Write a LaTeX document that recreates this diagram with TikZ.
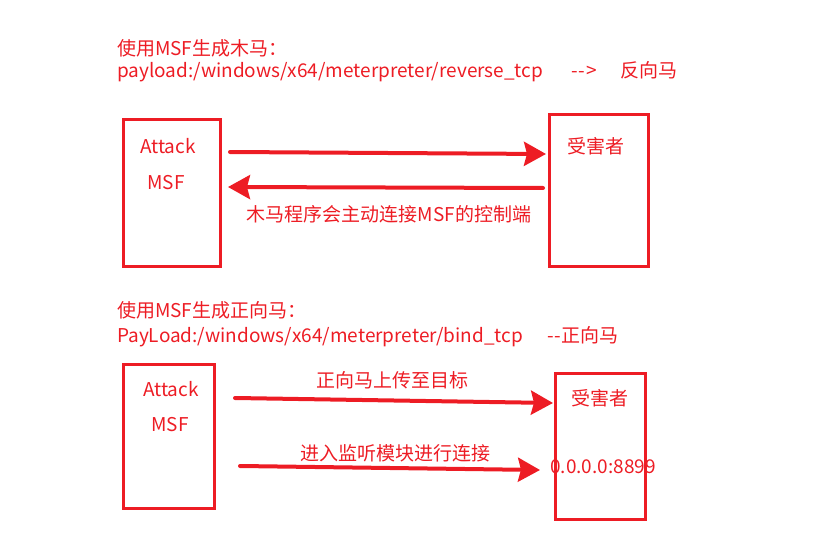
\documentclass[tikz,border=0pt]{standalone}
\usepackage{fontspec}
\setmainfont{Noto Sans CJK SC}
\usepackage{tikz}
\usetikzlibrary{arrows.meta, positioning}
\definecolor{myred}{RGB}{237,28,36}
\tikzset{
  host/.style={draw=myred, line width=3pt, inner sep=0pt},
  lbl/.style={text=myred, font=\fontsize{19}{22}\selectfont, inner sep=0pt},
  ttl/.style={text=myred, font=\fontsize{19}{22}\selectfont, inner sep=0pt, anchor=base west},
  conn/.style={-{Stealth[length=22pt, width=24pt, inset=3pt]}, myred, line width=4pt, line cap=round},
}
\begin{document}
\begin{tikzpicture}[x=1pt, y=-1pt]
  \useasboundingbox (0,0) rectangle (839,535);

  % ── REVERSE ─────────────────────────────────────────────
  \node[ttl] (t1) at (117,56) {使用MSF生成木马：};
  \node[ttl] (p1) at (117,78) {payload:/windows/x64/meterpreter/reverse\_tcp\hspace{28pt}{-}\hspace{1pt}{-}\hspace{1pt}>\hspace{24pt}反向马};
  \node[host, minimum width=97pt, minimum height=146pt] (atk1) at (171.5,193) {};
  \node[host, minimum width=99pt, minimum height=151pt] (vic1) at (598.5,190.5) {};
  \node[lbl] (atk1a) at (168,146) {Attack};
  \node[lbl] (atk1b) at (166,183) {MSF};
  \node[lbl] (vic1a) at (596,146) {受害者};
  \coordinate (r1s) at (230,152); \coordinate (r1e) at (546,154);
  \coordinate (r2s) at (543,188); \coordinate (r2e) at (228,187);
  \draw[conn] (r1s) -- (r1e);
  \draw[conn] (r2s) -- (r2e);
  \node[lbl] (r2l) at (389,214) {木马程序会主动连接MSF的控制端};

  % ── BIND ────────────────────────────────────────────────
  \node[ttl] (t2) at (117,317) {使用MSF生成正向马：};
  \node[ttl] (p2) at (117,342) {PayLoad:/windows/x64/meterpreter/bind\_tcp\hspace{25pt}{-}{-}正向马};
  \node[host, minimum width=91pt, minimum height=144pt] (atk2) at (168.5,436) {};
  \node[host, minimum width=90pt, minimum height=146pt] (vic2) at (600,446) {};
  \node[lbl] (atk2a) at (171,389) {Attack};
  \node[lbl] (atk2b) at (170,425) {MSF};
  \node[lbl] (vic2a) at (600,398) {受害者};
  \node[lbl] (vic2b) at (603,467) {0.0.0.0:8899};
  \coordinate (b1s) at (235,398); \coordinate (b1e) at (553,403);
  \coordinate (b2s) at (240,466); \coordinate (b2e) at (540,470);
  \draw[conn] (b1s) -- (b1e);
  \draw[conn] (b2s) -- (b2e);
  \node[lbl] (b1l) at (392,380) {正向马上传至目标};
  \node[lbl] (b2l) at (395,453) {进入监听模块进行连接};
\end{tikzpicture}
\end{document}
